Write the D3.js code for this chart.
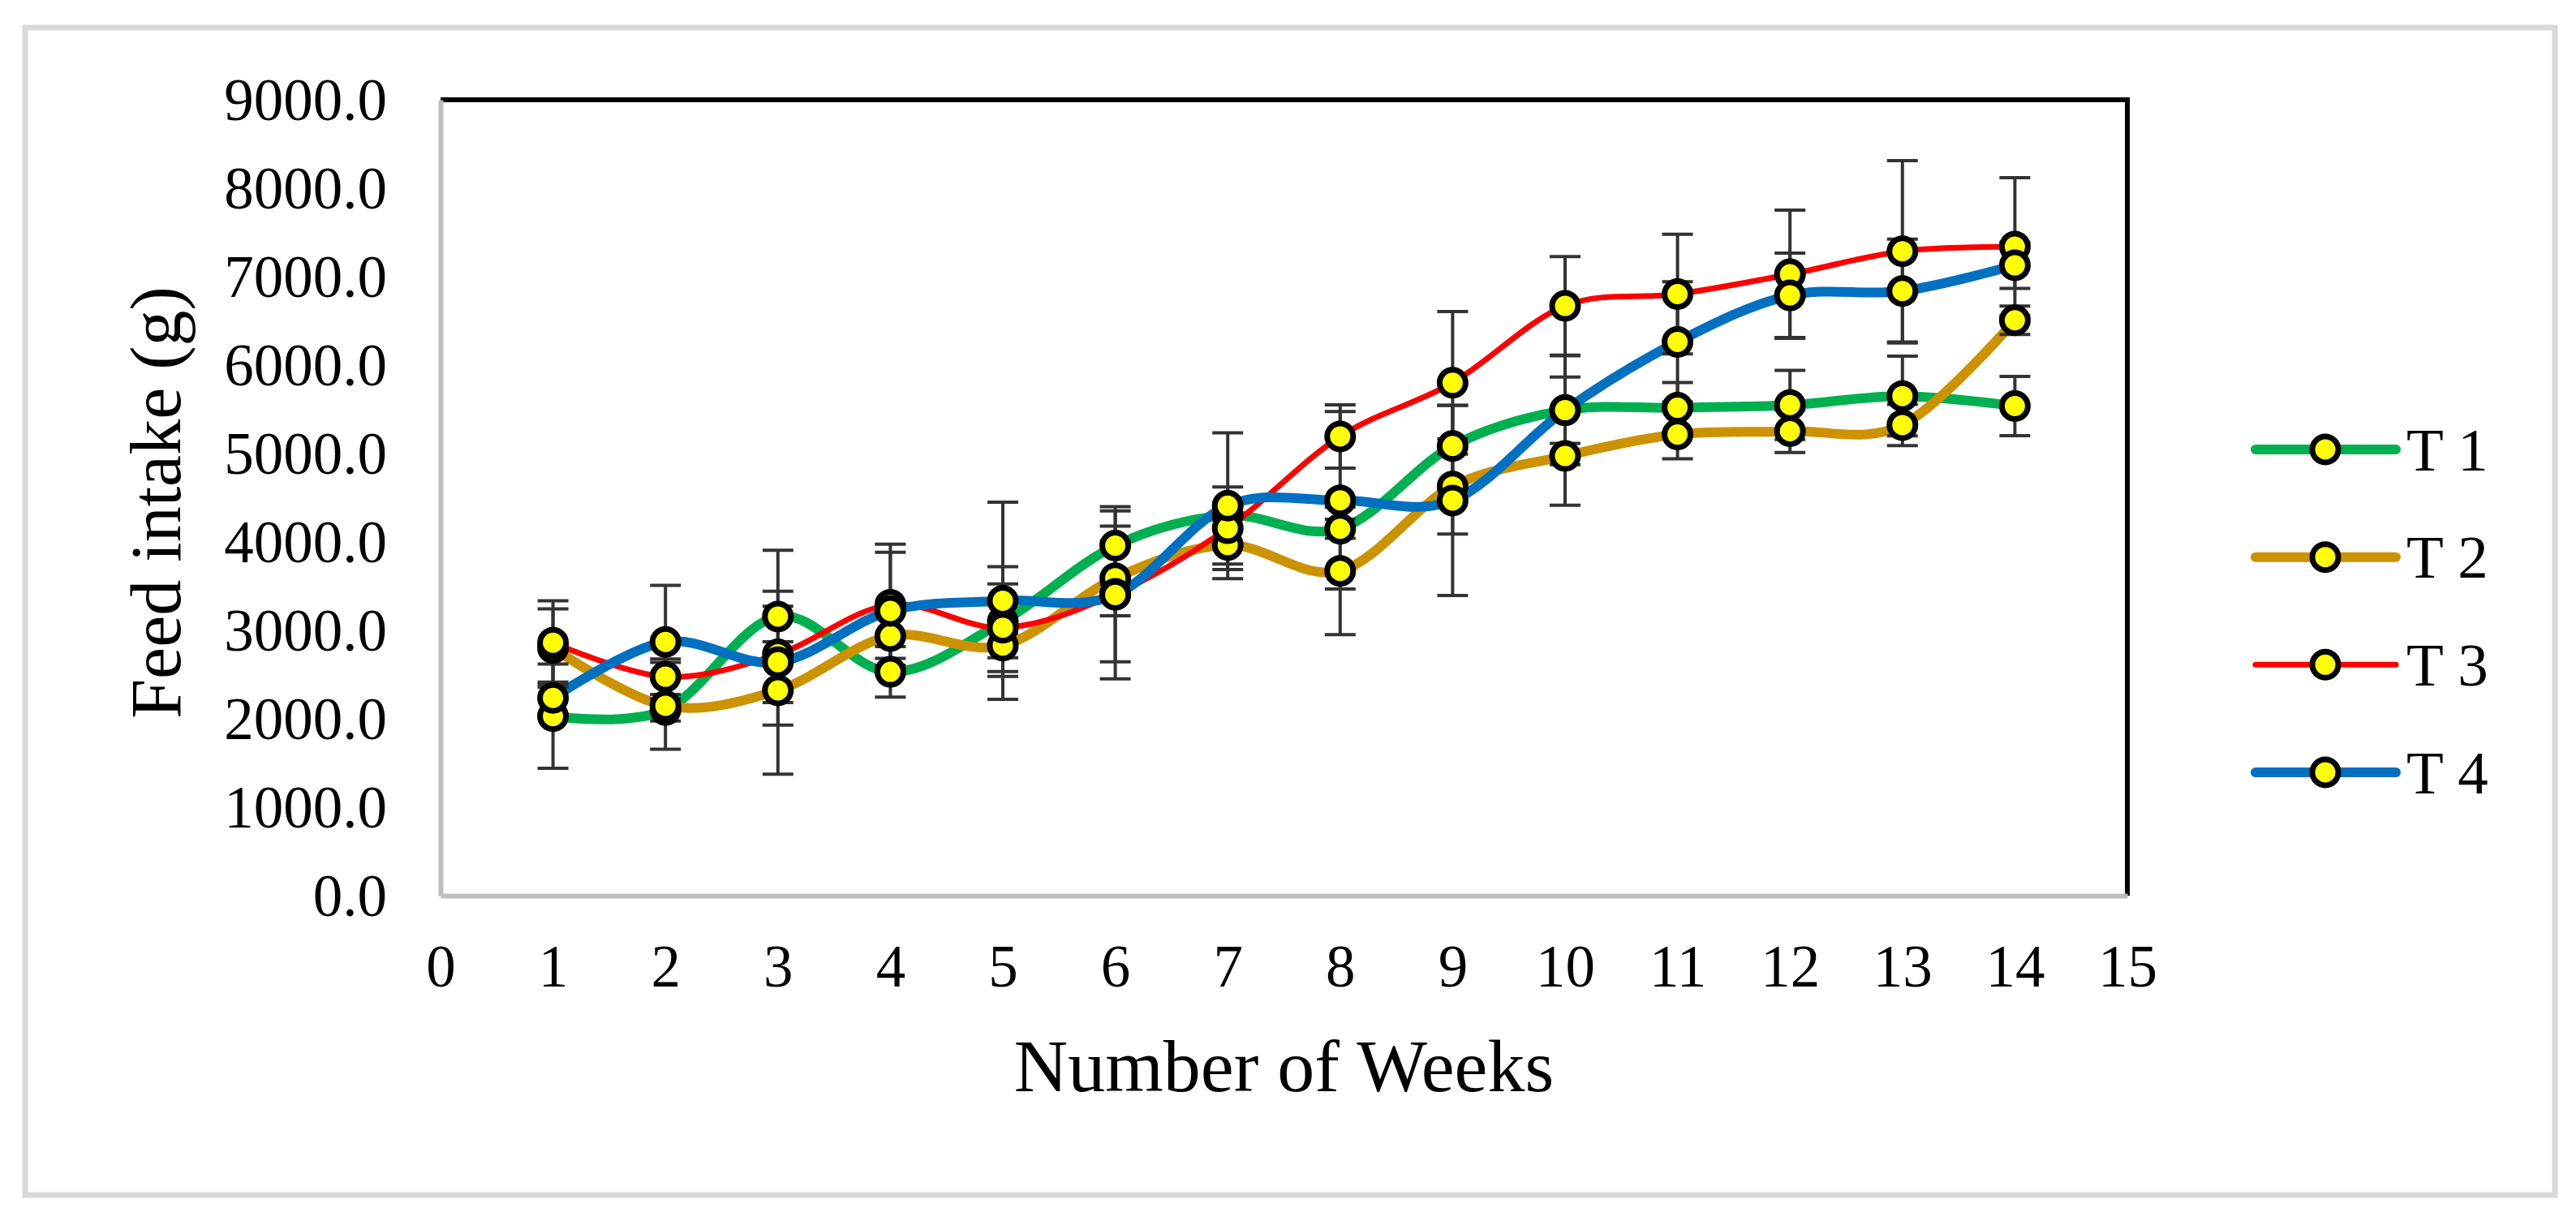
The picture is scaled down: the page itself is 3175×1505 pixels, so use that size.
<!DOCTYPE html>
<html>
<head>
<meta charset="utf-8">
<script src="https://cdn.jsdelivr.net/npm/d3@7/dist/d3.min.js"></script>
<style>
  body { margin: 0; background: #fff; }
  text { font-family: "Liberation Serif", "Times New Roman", serif; fill: #000; }
</style>
</head>
<body>
<div class="graph-area"></div>
<script>
// values
const weeks = [1, 2, 3, 4, 5, 6, 7, 8, 9, 10, 11, 12, 13, 14];
const seriesNames = ['T 1', 'T 2', 'T 3', 'T 4'];

const t1Intake = [2030, 2100, 3157, 2531, 3100, 3958, 4300, 4149, 5085, 5490, 5518, 5549, 5650, 5537];
const t2Intake = [2800, 2147, 2322, 2936, 2829, 3590, 3965, 3673, 4627, 4972, 5215, 5252, 5322, 6507];
const t3Intake = [2860, 2476, 2729, 3290, 3030, 3412, 4155, 5193, 5800, 6669, 6803, 7027, 7287, 7339];
const t4Intake = [2236, 2869, 2640, 3220, 3335, 3401, 4410, 4471, 4469, 5490, 6262, 6788, 6837, 7128];

const t1Error = [589, 125, 286, 286, 620, 442, 150, 108, 460, 375, 285, 391, 450, 335];
const t2Error = [443, 491, 393, 252, 139, 424, 215, 722, 538, 556, 275, 240, 232, 160];
const t3Error = [475, 200, 545, 684, 495, 768, 467, 357, 806, 557, 677, 725, 1025, 780];
const t4Error = [178, 641, 1265, 662, 1115, 950, 825, 1004, 1074, 616, 680, 477, 588, 260];

const yTicks = [0, 1000, 2000, 3000, 4000, 5000, 6000, 7000, 8000, 9000];
const xTicks = [0, 1, 2, 3, 4, 5, 6, 7, 8, 9, 10, 11, 12, 13, 14, 15];

const layout = {
  width: 3175,
  height: 1505,
  left: 543,
  right: 2622,
  top: 123,
  bottom: 1104,
};

const seriesStyle = [
  { color: '#00b050', lineWidth: 12 },
  { color: '#cc9200', lineWidth: 12 },
  { color: '#ff0000', lineWidth: 7 },
  { color: '#0070c0', lineWidth: 12 },
];

const markerRadius = 16;
const markerStroke = 7;

const series = [t1Intake, t2Intake, t3Intake, t4Intake].map((values, i) => ({
  name: seriesNames[i],
  style: seriesStyle[i],
  points: weeks.map((w, j) => ({ week: w, value: values[j], error: [t1Error, t2Error, t3Error, t4Error][i][j] })),
}));

const svg = d3.select('.graph-area')
  .append('svg')
  .attr('width', layout.width)
  .attr('height', layout.height);

// outer frame
svg.append('rect')
  .attr('x', 31).attr('y', 34)
  .attr('width', 3118).attr('height', 1439)
  .attr('fill', '#fff')
  .attr('stroke', '#d9d9d9')
  .attr('stroke-width', 7);

const x = d3.scaleLinear().domain([0, 15]).range([layout.left, layout.right]);
const y = d3.scaleLinear().domain([0, 9000]).range([layout.bottom, layout.top]);

// plot box: black top/right, grey axes
svg.append('path')
  .attr('d', `M${layout.left},${layout.top}H${layout.right}V${layout.bottom}`)
  .attr('fill', 'none')
  .attr('stroke', '#000')
  .attr('stroke-width', 6);

const yAxis = svg.append('g')
  .attr('transform', `translate(${layout.left},0)`)
  .call(d3.axisLeft(y).tickValues(yTicks).tickFormat(d3.format('.1f')).tickSize(0).tickPadding(66));
yAxis.select('.domain').attr('stroke', '#bfbfbf').attr('stroke-width', 6);
yAxis.selectAll('text').attr('font-size', 73).attr('dy', '0.34em');

const xAxis = svg.append('g')
  .attr('transform', `translate(0,${layout.bottom})`)
  .call(d3.axisBottom(x).tickValues(xTicks).tickFormat(d3.format('d')).tickSize(0).tickPadding(60));
xAxis.select('.domain').attr('stroke', '#bfbfbf').attr('stroke-width', 6);
xAxis.selectAll('text').attr('font-size', 73).attr('dy', '0.71em');
svg.selectAll('.tick text').attr('font-family', '"Liberation Serif", "Times New Roman", serif');

// axis titles
svg.append('text')
  .attr('x', (layout.left + layout.right) / 2)
  .attr('y', 1345)
  .attr('text-anchor', 'middle')
  .attr('font-size', 92)
  .text('Number of Weeks');

svg.append('text')
  .attr('transform', `translate(222,${(layout.top + layout.bottom) / 2 + 6}) rotate(-90)`)
  .attr('text-anchor', 'middle')
  .attr('font-size', 88)
  .text('Feed intake (g)');

const line = d3.line()
  .x(d => x(d.week))
  .y(d => y(d.value))
  .curve(d3.curveCardinal.tension(0));

svg.append('g').selectAll('path')
  .data(series)
  .enter()
  .append('path')
  .attr('d', d => line(d.points))
  .attr('fill', 'none')
  .attr('stroke', d => d.style.color)
  .attr('stroke-width', d => d.style.lineWidth)
  .attr('stroke-linejoin', 'round')
  .attr('stroke-linecap', 'round');

// error bars
const capHalf = 19;
const bars = svg.append('g')
  .attr('stroke', '#333')
  .attr('stroke-width', 4)
  .selectAll('g')
  .data(series.flatMap(s => s.points))
  .enter()
  .append('g');

bars.append('line')
  .attr('x1', d => x(d.week)).attr('x2', d => x(d.week))
  .attr('y1', d => y(d.value + d.error)).attr('y2', d => y(d.value - d.error));
bars.append('line')
  .attr('x1', d => x(d.week) - capHalf).attr('x2', d => x(d.week) + capHalf)
  .attr('y1', d => y(d.value + d.error)).attr('y2', d => y(d.value + d.error));
bars.append('line')
  .attr('x1', d => x(d.week) - capHalf).attr('x2', d => x(d.week) + capHalf)
  .attr('y1', d => y(d.value - d.error)).attr('y2', d => y(d.value - d.error));

// markers
svg.append('g').selectAll('g')
  .data(series)
  .enter()
  .append('g')
  .selectAll('circle')
  .data(d => d.points)
  .enter()
  .append('circle')
  .attr('cx', d => x(d.week))
  .attr('cy', d => y(d.value))
  .attr('r', markerRadius)
  .attr('fill', '#ffff00')
  .attr('stroke', '#000')
  .attr('stroke-width', markerStroke);

// legend
const legendRowY = d3.scalePoint().domain(seriesNames).range([554, 952]);
const legend = svg.append('g').selectAll('g')
  .data(series)
  .enter()
  .append('g')
  .attr('transform', d => `translate(0,${legendRowY(d.name)})`);

legend.append('line')
  .attr('x1', 2780).attr('x2', 2953)
  .attr('stroke', d => d.style.color)
  .attr('stroke-width', d => d.style.lineWidth)
  .attr('stroke-linecap', 'round');
legend.append('circle')
  .attr('cx', 2866)
  .attr('r', markerRadius)
  .attr('fill', '#ffff00')
  .attr('stroke', '#000')
  .attr('stroke-width', markerStroke);
legend.append('text')
  .attr('x', 2966)
  .attr('dy', '0.34em')
  .attr('font-size', 75)
  .text(d => d.name);
</script>
</body>
</html>
